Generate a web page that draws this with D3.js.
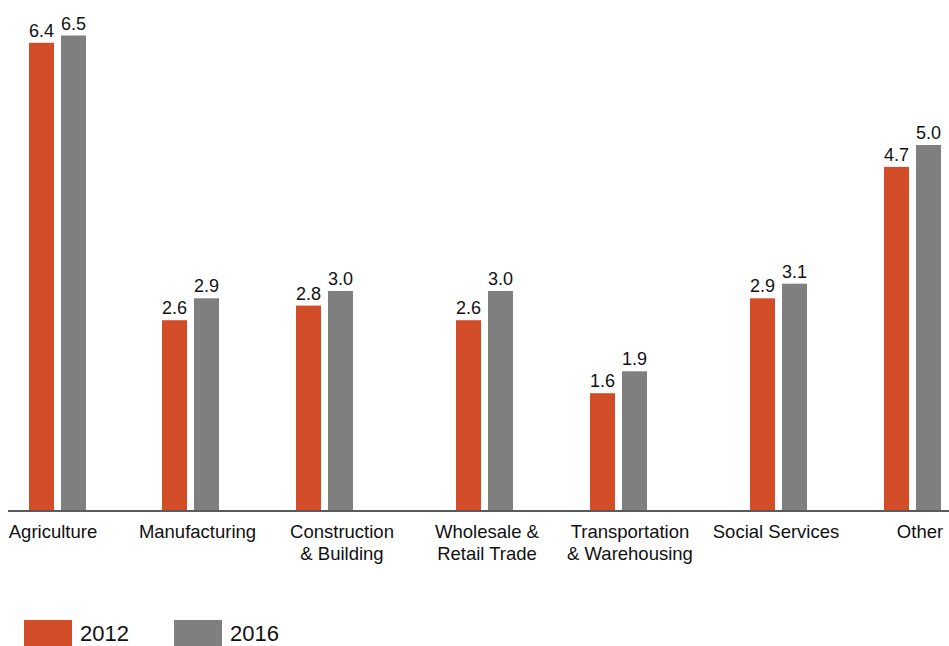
<!DOCTYPE html>
<html><head><meta charset="utf-8">
<script src="https://cdn.jsdelivr.net/npm/d3@7"></script>
<style>html,body{margin:0;padding:0;background:#fff;}svg{display:block;font-family:"Liberation Sans",Arial,Helvetica,sans-serif;}</style>
</head><body>
<script>
const categories = [["Agriculture"],["Manufacturing"],["Construction","& Building"],["Wholesale &","Retail Trade"],["Transportation","& Warehousing"],["Social Services"],["Other"]];
const seriesNames = ["2012","2016"];
const values2012 = [6.4, 2.6, 2.8, 2.6, 1.6, 2.9, 4.7];
const values2016 = [6.5, 2.9, 3.0, 3.0, 1.9, 3.1, 5.0];
const colors = ["#D24C28", "#7E7F7E"];

const W = 949, H = 646;
const svg = d3.select("body").append("svg").attr("width", W).attr("height", H);
const keys = categories.map(c => c.join(" "));

// group left edges and label centres (layout of the reference)
const xGroup = d3.scaleOrdinal().domain(keys).range([29, 162, 296, 456, 590, 750, 884]);
const xLabel = d3.scaleOrdinal().domain(keys).range([53, 197.5, 342, 487, 630, 776, 920]);
const xSeries = d3.scaleBand().domain(seriesNames).range([0, 57]).paddingInner(7/32).paddingOuter(0);
const y = d3.scaleLinear().domain([0, 6.5]).range([510, 35.5]);

const data = keys.map((k, i) => ({k, vals: [values2012[i], values2016[i]]}));

const g = svg.selectAll("g.grp").data(data).join("g").attr("class","grp")
  .attr("transform", d => `translate(${xGroup(d.k)},0)`);
g.selectAll("rect").data(d => d.vals.map((v, j) => ({v, s: seriesNames[j], j})))
  .join("rect")
  .attr("x", d => xSeries(d.s)).attr("width", xSeries.bandwidth())
  .attr("y", d => y(d.v)).attr("height", d => y(0) - y(d.v))
  .attr("fill", d => colors[d.j]);
g.selectAll("text").data(d => d.vals.map((v, j) => ({v, s: seriesNames[j], j})))
  .join("text")
  .attr("x", d => xSeries(d.s) + xSeries.bandwidth()/2)
  .attr("y", d => y(d.v) - 6)
  .attr("text-anchor", "middle").attr("font-size", 18).attr("fill", "#111")
  .text(d => d3.format(".1f")(d.v));

// baseline
svg.append("line").attr("x1", 8).attr("x2", W).attr("y1", y(0)+1).attr("y2", y(0)+1)
  .attr("stroke", "#5a5a5a").attr("stroke-width", 2);

// category labels
const lab = svg.selectAll("text.cat").data(categories).join("text").attr("class","cat")
  .attr("text-anchor","middle").attr("font-size", 18.5).attr("fill","#111")
  .attr("x", (d,i) => xLabel(keys[i])).attr("y", 538);
lab.selectAll("tspan").data(d => d).join("tspan")
  .attr("x", function(){ return d3.select(this.parentNode).attr("x"); })
  .attr("dy", (d,i) => i ? 22 : 0).text(d => d);

// legend
const legX = d3.scaleOrdinal().domain(seriesNames).range([24, 174]);
const leg = svg.selectAll("g.leg").data(seriesNames).join("g").attr("class","leg")
  .attr("transform", d => `translate(${legX(d)},620)`);
leg.append("rect").attr("width", 48).attr("height", 26).attr("fill", (d,i) => colors[i]);
leg.append("text").attr("x", 56).attr("y", 21).attr("font-size", 22).attr("fill","#111").text(d => d);
</script>
</body></html>
